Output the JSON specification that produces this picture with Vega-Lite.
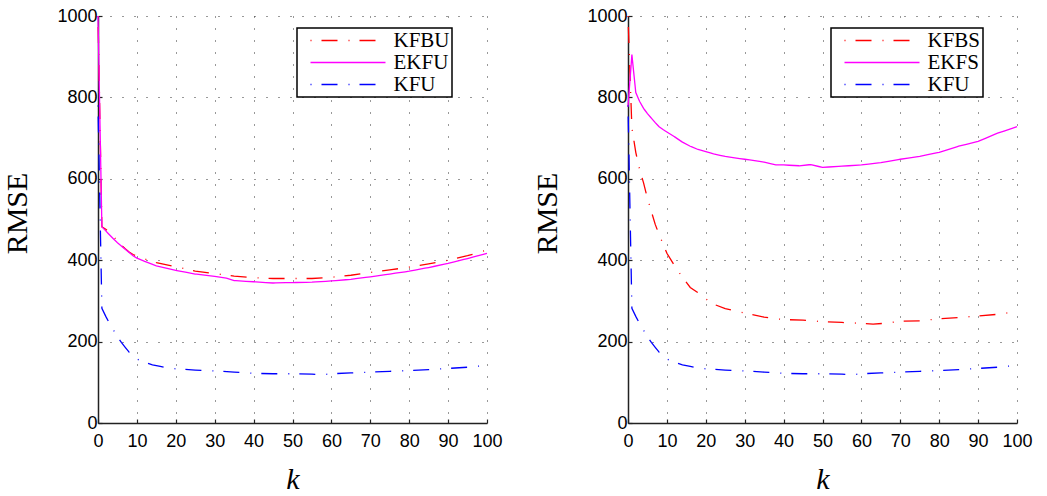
{
 "$schema": "https://vega.github.io/schema/vega-lite/v6.json",
 "padding": {"left": 2, "top": 7, "right": 5, "bottom": 5},
 "background": "white",
 "spacing": 29,
 "datasets": {
  "L": [
   {"s":"KFBU","k":0,"v":1000},{"s":"KFBU","k":1,"v":482},{"s":"KFBU","k":2,"v":476},{"s":"KFBU","k":3,"v":468},{"s":"KFBU","k":4,"v":458},{"s":"KFBU","k":5,"v":447},{"s":"KFBU","k":6,"v":437},{"s":"KFBU","k":7,"v":428},{"s":"KFBU","k":8,"v":420},{"s":"KFBU","k":9,"v":414},{"s":"KFBU","k":10,"v":410},{"s":"KFBU","k":12,"v":403},{"s":"KFBU","k":15,"v":394},{"s":"KFBU","k":20,"v":384},{"s":"KFBU","k":25,"v":373},{"s":"KFBU","k":30,"v":367},{"s":"KFBU","k":35,"v":361},{"s":"KFBU","k":40,"v":357},{"s":"KFBU","k":45,"v":355},{"s":"KFBU","k":50,"v":355},{"s":"KFBU","k":55,"v":355},{"s":"KFBU","k":60,"v":358},{"s":"KFBU","k":65,"v":363},{"s":"KFBU","k":70,"v":370},{"s":"KFBU","k":75,"v":376},{"s":"KFBU","k":80,"v":383},{"s":"KFBU","k":85,"v":391},{"s":"KFBU","k":90,"v":400},{"s":"KFBU","k":95,"v":411},{"s":"KFBU","k":100,"v":425},
   {"s":"EKFU","k":0,"v":1000},{"s":"EKFU","k":1,"v":482},{"s":"EKFU","k":2,"v":472},{"s":"EKFU","k":3,"v":462},{"s":"EKFU","k":4,"v":452},{"s":"EKFU","k":5,"v":443},{"s":"EKFU","k":6,"v":435},{"s":"EKFU","k":7,"v":427},{"s":"EKFU","k":8,"v":419},{"s":"EKFU","k":9,"v":411},{"s":"EKFU","k":10,"v":405},{"s":"EKFU","k":12,"v":397},{"s":"EKFU","k":15,"v":386},{"s":"EKFU","k":20,"v":375},{"s":"EKFU","k":25,"v":366},{"s":"EKFU","k":30,"v":360},{"s":"EKFU","k":33,"v":356},{"s":"EKFU","k":35,"v":350},{"s":"EKFU","k":40,"v":347},{"s":"EKFU","k":45,"v":344},{"s":"EKFU","k":50,"v":345},{"s":"EKFU","k":55,"v":346},{"s":"EKFU","k":60,"v":349},{"s":"EKFU","k":65,"v":353},{"s":"EKFU","k":70,"v":359},{"s":"EKFU","k":75,"v":366},{"s":"EKFU","k":80,"v":373},{"s":"EKFU","k":85,"v":382},{"s":"EKFU","k":90,"v":392},{"s":"EKFU","k":95,"v":404},{"s":"EKFU","k":100,"v":417},
   {"s":"KFU","k":0,"v":780},{"s":"KFU","k":1,"v":282},{"s":"KFU","k":2,"v":262},{"s":"KFU","k":3,"v":244},{"s":"KFU","k":4,"v":228},{"s":"KFU","k":5,"v":212},{"s":"KFU","k":6,"v":198},{"s":"KFU","k":7,"v":186},{"s":"KFU","k":8,"v":174},{"s":"KFU","k":9,"v":164},{"s":"KFU","k":10,"v":157},{"s":"KFU","k":12,"v":149},{"s":"KFU","k":14,"v":143},{"s":"KFU","k":16,"v":139},{"s":"KFU","k":18,"v":135},{"s":"KFU","k":20,"v":133},{"s":"KFU","k":25,"v":130},{"s":"KFU","k":30,"v":128},{"s":"KFU","k":35,"v":125},{"s":"KFU","k":40,"v":122},{"s":"KFU","k":45,"v":121},{"s":"KFU","k":50,"v":121},{"s":"KFU","k":55,"v":120},{"s":"KFU","k":58,"v":119},{"s":"KFU","k":60,"v":121},{"s":"KFU","k":65,"v":123},{"s":"KFU","k":70,"v":125},{"s":"KFU","k":75,"v":127},{"s":"KFU","k":80,"v":129},{"s":"KFU","k":85,"v":131},{"s":"KFU","k":90,"v":134},{"s":"KFU","k":95,"v":137},{"s":"KFU","k":100,"v":142}
  ],
  "R": [
   {"s":"KFBS","k":0,"v":1000},{"s":"KFBS","k":1,"v":725},{"s":"KFBS","k":2,"v":665},{"s":"KFBS","k":3,"v":622},{"s":"KFBS","k":4,"v":590},{"s":"KFBS","k":5,"v":552},{"s":"KFBS","k":6,"v":520},{"s":"KFBS","k":7,"v":488},{"s":"KFBS","k":8,"v":463},{"s":"KFBS","k":9,"v":440},{"s":"KFBS","k":10,"v":417},{"s":"KFBS","k":12,"v":386},{"s":"KFBS","k":14,"v":358},{"s":"KFBS","k":16,"v":333},{"s":"KFBS","k":18,"v":320},{"s":"KFBS","k":20,"v":305},{"s":"KFBS","k":22,"v":292},{"s":"KFBS","k":25,"v":281},{"s":"KFBS","k":30,"v":270},{"s":"KFBS","k":35,"v":260},{"s":"KFBS","k":40,"v":254},{"s":"KFBS","k":45,"v":253},{"s":"KFBS","k":50,"v":249},{"s":"KFBS","k":55,"v":247},{"s":"KFBS","k":60,"v":245},{"s":"KFBS","k":63,"v":243},{"s":"KFBS","k":66,"v":245},{"s":"KFBS","k":70,"v":250},{"s":"KFBS","k":75,"v":251},{"s":"KFBS","k":80,"v":256},{"s":"KFBS","k":85,"v":259},{"s":"KFBS","k":90,"v":263},{"s":"KFBS","k":95,"v":267},{"s":"KFBS","k":100,"v":274},
   {"s":"EKFS","k":0,"v":777},{"s":"EKFS","k":1,"v":905},{"s":"EKFS","k":2,"v":812},{"s":"EKFS","k":3,"v":790},{"s":"EKFS","k":4,"v":773},{"s":"EKFS","k":5,"v":760},{"s":"EKFS","k":6,"v":749},{"s":"EKFS","k":7,"v":738},{"s":"EKFS","k":8,"v":728},{"s":"EKFS","k":9,"v":721},{"s":"EKFS","k":10,"v":715},{"s":"EKFS","k":12,"v":703},{"s":"EKFS","k":14,"v":690},{"s":"EKFS","k":16,"v":680},{"s":"EKFS","k":18,"v":672},{"s":"EKFS","k":20,"v":667},{"s":"EKFS","k":22,"v":661},{"s":"EKFS","k":25,"v":655},{"s":"EKFS","k":30,"v":648},{"s":"EKFS","k":35,"v":641},{"s":"EKFS","k":38,"v":634},{"s":"EKFS","k":40,"v":634},{"s":"EKFS","k":44,"v":632},{"s":"EKFS","k":47,"v":635},{"s":"EKFS","k":50,"v":628},{"s":"EKFS","k":55,"v":631},{"s":"EKFS","k":60,"v":634},{"s":"EKFS","k":65,"v":640},{"s":"EKFS","k":70,"v":648},{"s":"EKFS","k":75,"v":655},{"s":"EKFS","k":80,"v":665},{"s":"EKFS","k":85,"v":680},{"s":"EKFS","k":90,"v":692},{"s":"EKFS","k":95,"v":712},{"s":"EKFS","k":100,"v":728},
   {"s":"KFU","k":0,"v":780},{"s":"KFU","k":1,"v":282},{"s":"KFU","k":2,"v":262},{"s":"KFU","k":3,"v":244},{"s":"KFU","k":4,"v":228},{"s":"KFU","k":5,"v":212},{"s":"KFU","k":6,"v":198},{"s":"KFU","k":7,"v":186},{"s":"KFU","k":8,"v":174},{"s":"KFU","k":9,"v":164},{"s":"KFU","k":10,"v":157},{"s":"KFU","k":12,"v":149},{"s":"KFU","k":14,"v":143},{"s":"KFU","k":16,"v":139},{"s":"KFU","k":18,"v":135},{"s":"KFU","k":20,"v":133},{"s":"KFU","k":25,"v":130},{"s":"KFU","k":30,"v":128},{"s":"KFU","k":35,"v":125},{"s":"KFU","k":40,"v":122},{"s":"KFU","k":45,"v":121},{"s":"KFU","k":50,"v":121},{"s":"KFU","k":55,"v":120},{"s":"KFU","k":58,"v":119},{"s":"KFU","k":60,"v":121},{"s":"KFU","k":65,"v":123},{"s":"KFU","k":70,"v":125},{"s":"KFU","k":75,"v":127},{"s":"KFU","k":80,"v":129},{"s":"KFU","k":85,"v":131},{"s":"KFU","k":90,"v":134},{"s":"KFU","k":95,"v":137},{"s":"KFU","k":100,"v":142}
  ]
 },
 "config": {
  "view": {"stroke": null},
  "axis": {
   "domainColor": "#222222", "domainWidth": 1.5,
   "tickColor": "#222222", "tickSize": -4, "tickWidth": 1.2,
   "labelFont": "Liberation Sans", "labelFontSize": 18, "labelColor": "black",
   "titleFont": "Liberation Serif", "titleFontSize": 30, "titleFontWeight": "normal", "titleColor": "black",
   "grid": true, "gridColor": "#333333", "gridDash": [1, 11], "gridWidth": 1
  },
  "axisX": {"labelPadding": 13, "labelFlush": false, "labelOverlap": false, "titlePadding": 14, "titleFontStyle": "italic"},
  "axisY": {"labelPadding": 5, "titlePadding": 24, "format": "d", "titleY": 197},
  "legend": {
   "orient": "none", "legendY": 12,
   "strokeColor": "black", "strokeWidth": 1.5, "fillColor": "white", "padding": 2,
   "symbolSize": 225, "symbolStrokeWidth": 1.3, "symbolOffset": 38.5,
   "labelFont": "Liberation Serif", "labelFontSize": 21, "labelColor": "black",
   "labelOffset": 35, "rowPadding": 0
  }
 },
 "hconcat": [
  {
   "width": 389, "height": 407,
   "data": {"name": "L"},
   "mark": {"type": "line", "strokeWidth": 1.3},
   "encoding": {
    "x": {"field": "k", "type": "quantitative", "scale": {"domain": [0, 100], "nice": false},
          "axis": {"values": [0,10,20,30,40,50,60,70,80,90,100], "title": "k"}},
    "y": {"field": "v", "type": "quantitative", "scale": {"domain": [0, 1000], "nice": false},
          "axis": {"values": [0,200,400,600,800,1000], "title": "RMSE"}},
    "color": {"field": "s", "type": "nominal", "sort": null,
              "scale": {"domain": ["KFBU","EKFU","KFU"], "range": ["#ff0000","#ff00ff","#0000ff"]},
              "legend": {"title": null, "symbolType": "M-5,0H5", "legendX": 199}},
    "strokeDash": {"field": "s", "type": "nominal", "sort": null,
              "scale": {"domain": ["KFBU","EKFU","KFU"], "range": [[1,10,16,11],[10,0],[1,10,16,11]]},
              "legend": {"title": null, "symbolType": "M-5,0H5", "legendX": 199}}
   }
  },
  {
   "width": 389, "height": 407,
   "data": {"name": "R"},
   "mark": {"type": "line", "strokeWidth": 1.3},
   "encoding": {
    "x": {"field": "k", "type": "quantitative", "scale": {"domain": [0, 100], "nice": false},
          "axis": {"values": [0,10,20,30,40,50,60,70,80,90,100], "title": "k"}},
    "y": {"field": "v", "type": "quantitative", "scale": {"domain": [0, 1000], "nice": false},
          "axis": {"values": [0,200,400,600,800,1000], "title": "RMSE"}},
    "color": {"field": "s", "type": "nominal", "sort": null,
              "scale": {"domain": ["KFBS","EKFS","KFU"], "range": ["#ff0000","#ff00ff","#0000ff"]},
              "legend": {"title": null, "symbolType": "M-5,0H5", "legendX": 203}},
    "strokeDash": {"field": "s", "type": "nominal", "sort": null,
              "scale": {"domain": ["KFBS","EKFS","KFU"], "range": [[1,10,16,11],[10,0],[1,10,16,11]]},
              "legend": {"title": null, "symbolType": "M-5,0H5", "legendX": 203}}
   }
  }
 ],
 "resolve": {"scale": {"color": "independent", "strokeDash": "independent"}}
}
